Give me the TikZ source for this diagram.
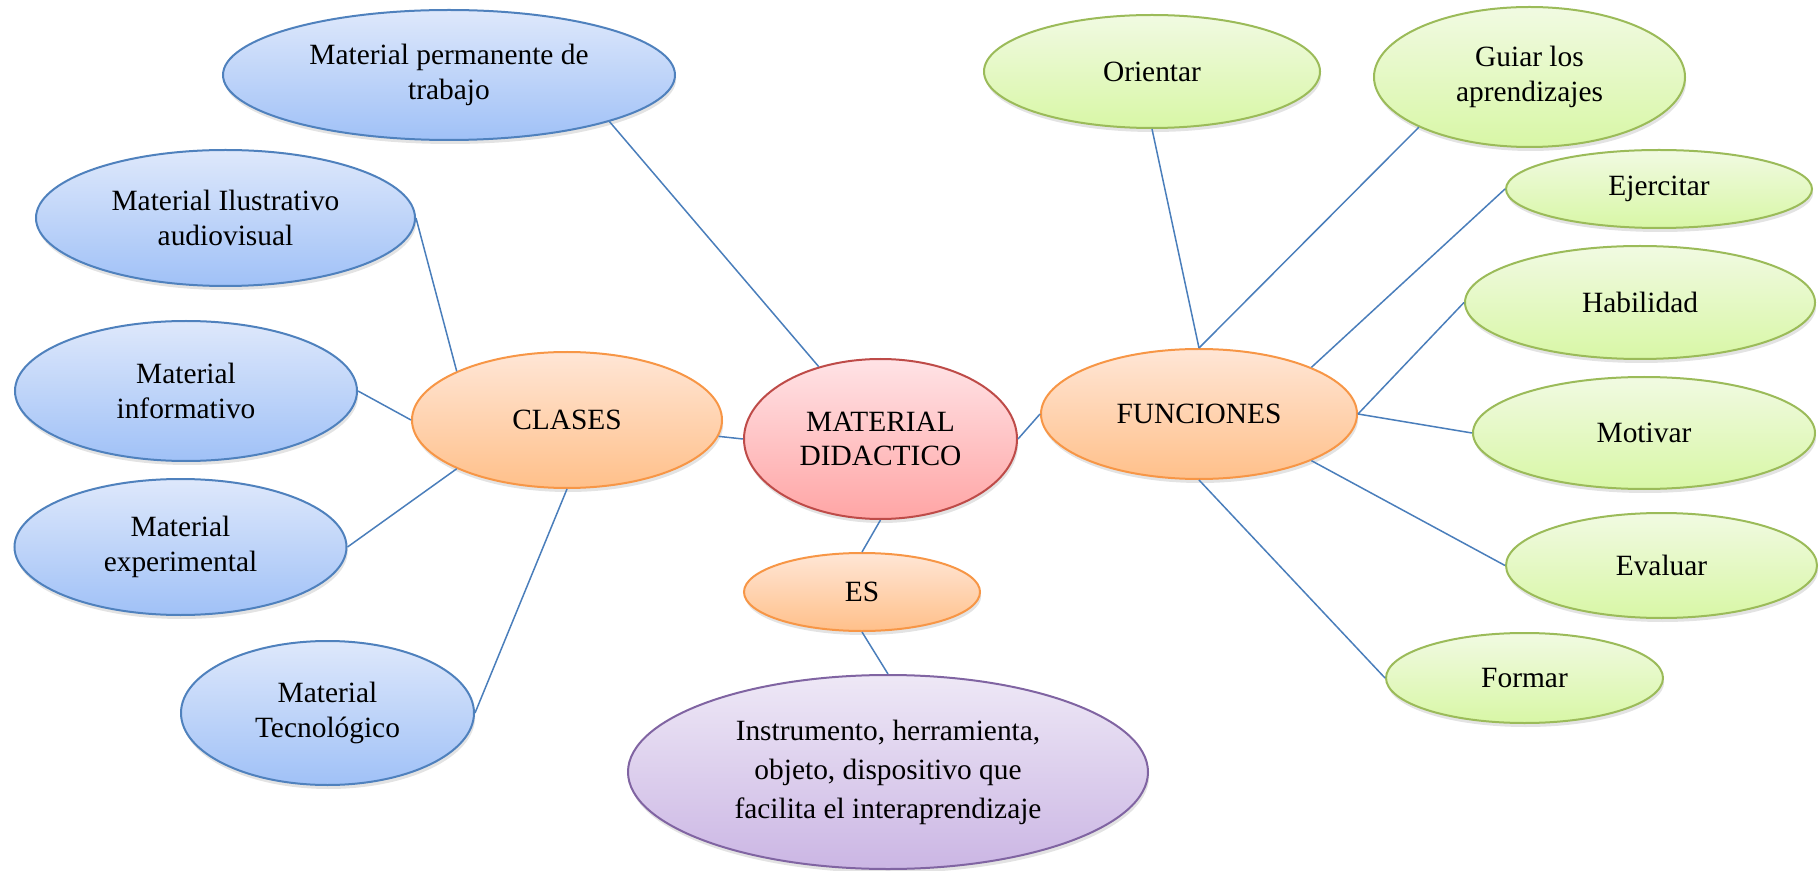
\documentclass[tikz,border=0pt]{standalone}
\usepackage{fontspec}
\setmainfont{Liberation Serif}
\usetikzlibrary{shapes.geometric,shadows}
\definecolor{bluetop}{HTML}{DEE8FB}
\definecolor{bluebot}{HTML}{A0C1F7}
\definecolor{blueedge}{HTML}{4F81BD}
\definecolor{orangetop}{HTML}{FFE6D6}
\definecolor{orangebot}{HTML}{FFC08A}
\definecolor{orangeedge}{HTML}{F79646}
\definecolor{redtop}{HTML}{FFE3E6}
\definecolor{redbot}{HTML}{FFA5A5}
\definecolor{rededge}{HTML}{BE4B48}
\definecolor{greentop}{HTML}{F1FAE2}
\definecolor{greenbot}{HTML}{D8F7A6}
\definecolor{greenedge}{HTML}{9BBB59}
\definecolor{purpletop}{HTML}{EEE8F6}
\definecolor{purplebot}{HTML}{CBB6E4}
\definecolor{purpleedge}{HTML}{8064A2}
\definecolor{linkcol}{HTML}{4A7EBB}
\tikzset{
  bub/.style={ellipse, draw, line width=1pt, inner sep=0pt, align=center,
    font=\fontsize{14.7}{17.2}\selectfont,
    drop shadow={shadow xshift=0.6pt, shadow yshift=-2pt, opacity=0.22}},
  bluebub/.style={bub, draw=blueedge, top color=bluetop, bottom color=bluebot},
  orangebub/.style={bub, draw=orangeedge, top color=orangetop, bottom color=orangebot},
  redbub/.style={bub, draw=rededge, top color=redtop, bottom color=redbot},
  greenbub/.style={bub, draw=greenedge, top color=greentop, bottom color=greenbot},
  purplebub/.style={bub, draw=purpleedge, top color=purpletop, bottom color=purplebot,
    font=\fontsize{14.7}{19.5}\selectfont},
  link/.style={draw=linkcol, line width=0.75pt},
}
\begin{document}
\begin{tikzpicture}[x=0.5pt, y=-0.5pt]
\useasboundingbox (0,0) rectangle (1820,871);
% left side
\node[bluebub, minimum width=226pt, minimum height=65pt] (perm) at (449,75) {Material permanente de\\trabajo};
\node[bluebub, minimum width=189.5pt, minimum height=68pt] (ilus) at (225.5,218) {Material Ilustrativo\\audiovisual};
\node[bluebub, minimum width=171pt, minimum height=70pt] (info) at (186,391) {Material\\informativo};
\node[bluebub, minimum width=166pt, minimum height=68pt] (expe) at (180.5,547) {Material\\experimental};
\node[bluebub, minimum width=146.5pt, minimum height=72pt] (tec) at (327.5,713) {Material\\Tecnológico};
\node[orangebub, minimum width=155pt, minimum height=68pt] (clases) at (567,420) {CLASES};
% centre
\node[redbub, minimum width=136.5pt, minimum height=80pt] (md) at (880.5,439) {MATERIAL\\DIDACTICO};
\node[orangebub, minimum width=118pt, minimum height=39pt] (es) at (862,592) {ES};
\node[purplebub, minimum width=260pt, minimum height=97pt] (purp) at (888,772) {Instrumento, herramienta,\\objeto, dispositivo que\\facilita el interaprendizaje};
% right side
\node[orangebub, minimum width=158pt, minimum height=65pt] (fun) at (1199,414) {FUNCIONES};
\node[greenbub, minimum width=168pt, minimum height=56.5pt] (ori) at (1152,71.5) {Orientar};
\node[greenbub, minimum width=155.5pt, minimum height=70pt] (guiar) at (1529.5,77) {Guiar los\\aprendizajes};
\node[greenbub, minimum width=153pt, minimum height=39pt] (ejer) at (1659,189) {Ejercitar};
\node[greenbub, minimum width=175pt, minimum height=56.5pt] (hab) at (1640,302.5) {Habilidad};
\node[greenbub, minimum width=171pt, minimum height=56pt] (mot) at (1644,433) {Motivar};
\node[greenbub, minimum width=155.5pt, minimum height=52.5pt] (eval) at (1661.5,565.5) {Evaluar};
\node[greenbub, minimum width=138.5pt, minimum height=45pt] (formar) at (1524.5,678) {Formar};
% connectors
\draw[link] (perm.south east) -- (md);
\draw[link] (ilus.east) -- (clases.north west);
\draw[link] (info.east) -- (clases.west);
\draw[link] (md.west) -- (clases);
\draw[link] (expe.east) -- (clases.south west);
\draw[link] (tec.east) -- (clases.south);
\draw[link] (md.south) -- (es.north);
\draw[link] (es.south) -- (purp.north);
\draw[link] (md.east) -- (fun.west);
\draw[link] (ori.south) -- (fun.north);
\draw[link] (guiar.south west) -- (fun.north);
\draw[link] (ejer.west) -- (fun.north east);
\draw[link] (hab.west) -- (fun.east);
\draw[link] (mot.west) -- (fun.east);
\draw[link] (eval.west) -- (fun.south east);
\draw[link] (formar.west) -- (fun.south);
\end{tikzpicture}
\end{document}
